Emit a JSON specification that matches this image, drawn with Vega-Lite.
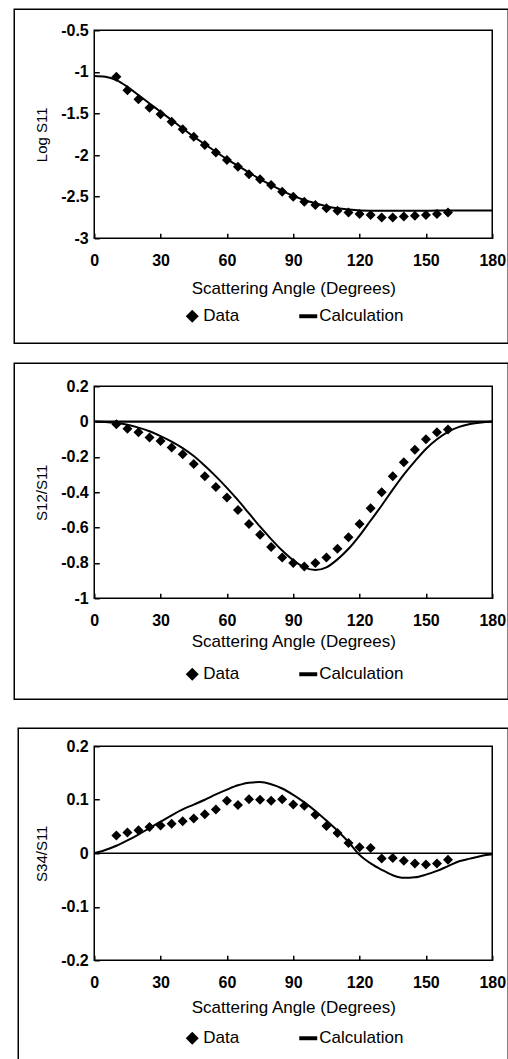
{
  "$schema": "https://vega.github.io/schema/vega-lite/v6.json",
  "background": "white",
  "autosize": {"type": "pad"},
  "padding": {"left": 12.25, "top": 7.25, "right": 0, "bottom": 0},
  "spacing": 148,
  "bounds": "flush",
  "resolve": {"scale": {"shape": "independent"}, "legend": {"shape": "independent"}},
  "datasets": {
    "s11d": [
      {"angle": 10, "value": -1.06, "series": "Data"}, {"angle": 15, "value": -1.22, "series": "Data"},
      {"angle": 20, "value": -1.33, "series": "Data"}, {"angle": 25, "value": -1.43, "series": "Data"},
      {"angle": 30, "value": -1.51, "series": "Data"}, {"angle": 35, "value": -1.6, "series": "Data"},
      {"angle": 40, "value": -1.69, "series": "Data"}, {"angle": 45, "value": -1.78, "series": "Data"},
      {"angle": 50, "value": -1.88, "series": "Data"}, {"angle": 55, "value": -1.97, "series": "Data"},
      {"angle": 60, "value": -2.06, "series": "Data"}, {"angle": 65, "value": -2.14, "series": "Data"},
      {"angle": 70, "value": -2.23, "series": "Data"}, {"angle": 75, "value": -2.29, "series": "Data"},
      {"angle": 80, "value": -2.36, "series": "Data"}, {"angle": 85, "value": -2.44, "series": "Data"},
      {"angle": 90, "value": -2.5, "series": "Data"}, {"angle": 95, "value": -2.56, "series": "Data"},
      {"angle": 100, "value": -2.6, "series": "Data"}, {"angle": 105, "value": -2.64, "series": "Data"},
      {"angle": 110, "value": -2.67, "series": "Data"}, {"angle": 115, "value": -2.69, "series": "Data"},
      {"angle": 120, "value": -2.71, "series": "Data"}, {"angle": 125, "value": -2.72, "series": "Data"},
      {"angle": 130, "value": -2.75, "series": "Data"}, {"angle": 135, "value": -2.75, "series": "Data"},
      {"angle": 140, "value": -2.74, "series": "Data"}, {"angle": 145, "value": -2.73, "series": "Data"},
      {"angle": 150, "value": -2.72, "series": "Data"}, {"angle": 155, "value": -2.71, "series": "Data"},
      {"angle": 160, "value": -2.69, "series": "Data"}
    ],
    "s11c": [
      {"angle": 0, "value": -1.05}, {"angle": 5, "value": -1.06}, {"angle": 10, "value": -1.1},
      {"angle": 15, "value": -1.18}, {"angle": 20, "value": -1.28}, {"angle": 25, "value": -1.38},
      {"angle": 30, "value": -1.48}, {"angle": 35, "value": -1.58}, {"angle": 40, "value": -1.68},
      {"angle": 45, "value": -1.78}, {"angle": 50, "value": -1.87}, {"angle": 55, "value": -1.96},
      {"angle": 60, "value": -2.05}, {"angle": 65, "value": -2.13}, {"angle": 70, "value": -2.21},
      {"angle": 75, "value": -2.29}, {"angle": 80, "value": -2.36}, {"angle": 85, "value": -2.43},
      {"angle": 90, "value": -2.49}, {"angle": 95, "value": -2.54}, {"angle": 100, "value": -2.58},
      {"angle": 105, "value": -2.615}, {"angle": 110, "value": -2.64}, {"angle": 115, "value": -2.655},
      {"angle": 120, "value": -2.665}, {"angle": 130, "value": -2.67}, {"angle": 140, "value": -2.67},
      {"angle": 150, "value": -2.67}, {"angle": 160, "value": -2.665}, {"angle": 170, "value": -2.665},
      {"angle": 180, "value": -2.665}
    ],
    "s12d": [
      {"angle": 10, "value": -0.015, "series": "Data"}, {"angle": 15, "value": -0.04, "series": "Data"},
      {"angle": 20, "value": -0.06, "series": "Data"}, {"angle": 25, "value": -0.09, "series": "Data"},
      {"angle": 30, "value": -0.11, "series": "Data"}, {"angle": 35, "value": -0.147, "series": "Data"},
      {"angle": 40, "value": -0.185, "series": "Data"}, {"angle": 45, "value": -0.24, "series": "Data"},
      {"angle": 50, "value": -0.31, "series": "Data"}, {"angle": 55, "value": -0.37, "series": "Data"},
      {"angle": 60, "value": -0.43, "series": "Data"}, {"angle": 65, "value": -0.5, "series": "Data"},
      {"angle": 70, "value": -0.58, "series": "Data"}, {"angle": 75, "value": -0.64, "series": "Data"},
      {"angle": 80, "value": -0.71, "series": "Data"}, {"angle": 85, "value": -0.77, "series": "Data"},
      {"angle": 90, "value": -0.8, "series": "Data"}, {"angle": 95, "value": -0.82, "series": "Data"},
      {"angle": 100, "value": -0.8, "series": "Data"}, {"angle": 105, "value": -0.77, "series": "Data"},
      {"angle": 110, "value": -0.72, "series": "Data"}, {"angle": 115, "value": -0.655, "series": "Data"},
      {"angle": 120, "value": -0.58, "series": "Data"}, {"angle": 125, "value": -0.49, "series": "Data"},
      {"angle": 130, "value": -0.4, "series": "Data"}, {"angle": 135, "value": -0.31, "series": "Data"},
      {"angle": 140, "value": -0.23, "series": "Data"}, {"angle": 145, "value": -0.16, "series": "Data"},
      {"angle": 150, "value": -0.1, "series": "Data"}, {"angle": 155, "value": -0.06, "series": "Data"},
      {"angle": 160, "value": -0.045, "series": "Data"}
    ],
    "s12c": [
      {"angle": 0, "value": 0}, {"angle": 5, "value": -0.002}, {"angle": 10, "value": -0.008},
      {"angle": 15, "value": -0.018}, {"angle": 20, "value": -0.034}, {"angle": 25, "value": -0.055},
      {"angle": 30, "value": -0.082}, {"angle": 35, "value": -0.113}, {"angle": 40, "value": -0.15},
      {"angle": 45, "value": -0.195}, {"angle": 50, "value": -0.25}, {"angle": 55, "value": -0.31},
      {"angle": 60, "value": -0.375}, {"angle": 65, "value": -0.445}, {"angle": 70, "value": -0.52},
      {"angle": 75, "value": -0.595}, {"angle": 80, "value": -0.665}, {"angle": 85, "value": -0.73},
      {"angle": 90, "value": -0.785}, {"angle": 95, "value": -0.825}, {"angle": 100, "value": -0.84},
      {"angle": 105, "value": -0.825}, {"angle": 110, "value": -0.78}, {"angle": 115, "value": -0.72},
      {"angle": 120, "value": -0.645}, {"angle": 125, "value": -0.56}, {"angle": 130, "value": -0.475},
      {"angle": 135, "value": -0.385}, {"angle": 140, "value": -0.3}, {"angle": 145, "value": -0.225},
      {"angle": 150, "value": -0.155}, {"angle": 155, "value": -0.1}, {"angle": 160, "value": -0.058},
      {"angle": 165, "value": -0.03}, {"angle": 170, "value": -0.014}, {"angle": 175, "value": -0.005},
      {"angle": 180, "value": 0}
    ],
    "s34d": [
      {"angle": 10, "value": 0.033, "series": "Data"}, {"angle": 15, "value": 0.039, "series": "Data"},
      {"angle": 20, "value": 0.043, "series": "Data"}, {"angle": 25, "value": 0.049, "series": "Data"},
      {"angle": 30, "value": 0.052, "series": "Data"}, {"angle": 35, "value": 0.055, "series": "Data"},
      {"angle": 40, "value": 0.06, "series": "Data"}, {"angle": 45, "value": 0.065, "series": "Data"},
      {"angle": 50, "value": 0.073, "series": "Data"}, {"angle": 55, "value": 0.082, "series": "Data"},
      {"angle": 60, "value": 0.098, "series": "Data"}, {"angle": 65, "value": 0.09, "series": "Data"},
      {"angle": 70, "value": 0.101, "series": "Data"}, {"angle": 75, "value": 0.1, "series": "Data"},
      {"angle": 80, "value": 0.098, "series": "Data"}, {"angle": 85, "value": 0.101, "series": "Data"},
      {"angle": 90, "value": 0.091, "series": "Data"}, {"angle": 95, "value": 0.089, "series": "Data"},
      {"angle": 100, "value": 0.072, "series": "Data"}, {"angle": 105, "value": 0.051, "series": "Data"},
      {"angle": 110, "value": 0.038, "series": "Data"}, {"angle": 115, "value": 0.019, "series": "Data"},
      {"angle": 120, "value": 0.011, "series": "Data"}, {"angle": 125, "value": 0.01, "series": "Data"},
      {"angle": 130, "value": -0.01, "series": "Data"}, {"angle": 135, "value": -0.009, "series": "Data"},
      {"angle": 140, "value": -0.014, "series": "Data"}, {"angle": 145, "value": -0.019, "series": "Data"},
      {"angle": 150, "value": -0.021, "series": "Data"}, {"angle": 155, "value": -0.019, "series": "Data"},
      {"angle": 160, "value": -0.012, "series": "Data"}
    ],
    "s34c": [
      {"angle": 0, "value": 0}, {"angle": 5, "value": 0.006}, {"angle": 10, "value": 0.014},
      {"angle": 15, "value": 0.024}, {"angle": 20, "value": 0.035}, {"angle": 25, "value": 0.047},
      {"angle": 30, "value": 0.059}, {"angle": 35, "value": 0.071}, {"angle": 40, "value": 0.082},
      {"angle": 45, "value": 0.091}, {"angle": 50, "value": 0.1}, {"angle": 55, "value": 0.11},
      {"angle": 60, "value": 0.119}, {"angle": 65, "value": 0.127}, {"angle": 70, "value": 0.132},
      {"angle": 75, "value": 0.133}, {"angle": 80, "value": 0.129}, {"angle": 85, "value": 0.121},
      {"angle": 90, "value": 0.109}, {"angle": 95, "value": 0.095}, {"angle": 100, "value": 0.079},
      {"angle": 105, "value": 0.061}, {"angle": 110, "value": 0.042}, {"angle": 115, "value": 0.021},
      {"angle": 120, "value": -0.003}, {"angle": 125, "value": -0.019}, {"angle": 130, "value": -0.031},
      {"angle": 135, "value": -0.041}, {"angle": 140, "value": -0.046}, {"angle": 145, "value": -0.045},
      {"angle": 150, "value": -0.04}, {"angle": 155, "value": -0.033}, {"angle": 160, "value": -0.024},
      {"angle": 165, "value": -0.015}, {"angle": 170, "value": -0.01}, {"angle": 175, "value": -0.005},
      {"angle": 180, "value": -0.002}
    ]
  },
  "vconcat": [
    {
      "width": 398,
      "height": 208,
      "layer": [
        {
          "data": {"name": "s11c"},
          "mark": {"type": "line", "color": "black", "strokeWidth": 2, "interpolate": "monotone"},
          "encoding": {
            "x": {"field": "angle", "type": "quantitative", "scale": {"domain": [0, 180], "nice": false, "zero": false},
                  "axis": {"title": "Scattering Angle (Degrees)", "values": [0, 30, 60, 90, 120, 150, 180], "tickCount": 10, "titlePadding": 12, "labelOverlap": false}},
            "y": {"field": "value", "type": "quantitative", "scale": {"domain": [-3, -0.5], "nice": false, "zero": false},
                  "axis": {"title": "Log S11", "values": [-3, -2.5, -2, -1.5, -1, -0.5], "tickCount": 10, "labelOverlap": false}}
          }
        },
        {
          "data": {"values": [{}]},
          "mark": {"type": "rect", "filled": false, "stroke": "black", "strokeWidth": 1.5},
          "encoding": {
            "x": {"datum": -36.18, "type": "quantitative"},
            "x2": {"datum": 187.24},
            "y": {"datum": -0.2476, "type": "quantitative"},
            "y2": {"datum": -4.262}
          }
        },
        {
          "data": {"name": "s11d"},
          "mark": {"type": "point", "filled": true, "color": "black", "size": 193, "opacity": 1},
          "encoding": {
            "x": {"field": "angle", "type": "quantitative"},
            "y": {"field": "value", "type": "quantitative"},
            "shape": {"field": "series", "type": "nominal",
                      "scale": {"domain": ["Data", "Calculation"], "range": ["M0,-0.72L0.72,0L0,0.72L-0.72,0Z", "M-1,-0.22L1,-0.22L1,0.22L-1,0.22Z"]},
                      "legend": {"title": null, "offset": 11}}
          }
        }
      ]
    },
    {
      "width": 398,
      "height": 212,
      "layer": [
        {
          "data": {"name": "s12c"},
          "mark": {"type": "line", "color": "black", "strokeWidth": 2, "interpolate": "monotone"},
          "encoding": {
            "x": {"field": "angle", "type": "quantitative", "scale": {"domain": [0, 180], "nice": false, "zero": false},
                  "axis": {"title": "Scattering Angle (Degrees)", "values": [0, 30, 60, 90, 120, 150, 180], "tickCount": 10, "titlePadding": 5, "labelOverlap": false}},
            "y": {"field": "value", "type": "quantitative", "scale": {"domain": [-1, 0.2], "nice": false, "zero": false},
                  "axis": {"title": "S12/S11", "values": [-1, -0.8, -0.6, -0.4, -0.2, 0, 0.2], "tickCount": 10, "labelOverlap": false}}
          }
        },
        {
          "data": {"values": [{}]},
          "mark": {"type": "rect", "filled": false, "stroke": "black", "strokeWidth": 1.5},
          "encoding": {
            "x": {"datum": -36.18, "type": "quantitative"},
            "x2": {"datum": 187.24},
            "y": {"datum": 0.3302, "type": "quantitative"},
            "y2": {"datum": -1.5717}
          }
        },
        {
          "data": {"values": [{}]},
          "mark": {"type": "rule", "color": "black", "strokeWidth": 2.2},
          "encoding": {
            "y": {"datum": 0, "type": "quantitative"}
          }
        },
        {
          "data": {"name": "s12d"},
          "mark": {"type": "point", "filled": true, "color": "black", "size": 193, "opacity": 1},
          "encoding": {
            "x": {"field": "angle", "type": "quantitative"},
            "y": {"field": "value", "type": "quantitative"},
            "shape": {"field": "series", "type": "nominal",
                      "scale": {"domain": ["Data", "Calculation"], "range": ["M0,-0.72L0.72,0L0,0.72L-0.72,0Z", "M-1,-0.22L1,-0.22L1,0.22L-1,0.22Z"]},
                      "legend": {"title": null, "offset": 16}}
          }
        }
      ]
    },
    {
      "width": 398,
      "height": 214,
      "layer": [
        {
          "data": {"name": "s34c"},
          "mark": {"type": "line", "color": "black", "strokeWidth": 2, "interpolate": "monotone"},
          "encoding": {
            "x": {"field": "angle", "type": "quantitative", "scale": {"domain": [0, 180], "nice": false, "zero": false},
                  "axis": {"title": "Scattering Angle (Degrees)", "values": [0, 30, 60, 90, 120, 150, 180], "tickCount": 10, "labelOverlap": false}},
            "y": {"field": "value", "type": "quantitative", "scale": {"domain": [-0.2, 0.2], "nice": false, "zero": false},
                  "axis": {"title": "S34/S11", "values": [-0.2, -0.1, 0, 0.1, 0.2], "tickCount": 10, "labelOverlap": false}}
          }
        },
        {
          "data": {"values": [{}]},
          "mark": {"type": "rect", "filled": false, "stroke": "black", "strokeWidth": 1.5},
          "encoding": {
            "x": {"datum": -34.37, "type": "quantitative"},
            "x2": {"datum": 187.24},
            "y": {"datum": 0.2336, "type": "quantitative"},
            "y2": {"datum": -0.4075}
          }
        },
        {
          "data": {"values": [{}]},
          "mark": {"type": "rule", "color": "black", "strokeWidth": 1.6},
          "encoding": {
            "y": {"datum": 0, "type": "quantitative"}
          }
        },
        {
          "data": {"name": "s34d"},
          "mark": {"type": "point", "filled": true, "color": "black", "size": 193, "opacity": 1},
          "encoding": {
            "x": {"field": "angle", "type": "quantitative"},
            "y": {"field": "value", "type": "quantitative"},
            "shape": {"field": "series", "type": "nominal",
                      "scale": {"domain": ["Data", "Calculation"], "range": ["M0,-0.72L0.72,0L0,0.72L-0.72,0Z", "M-1,-0.22L1,-0.22L1,0.22L-1,0.22Z"]},
                      "legend": {"title": null}}
          }
        }
      ]
    }
  ],
  "config": {
    "font": "Liberation Sans",
    "view": {"stroke": "black", "strokeWidth": 1.5},
    "axis": {
      "domain": false, "grid": false, "ticks": true, "tickColor": "black", "tickWidth": 1.5, "tickSize": -5,
      "labelFont": "Liberation Sans", "labelFontSize": 16, "labelFontWeight": "bold", "labelColor": "black",
      "labelFlush": false, "labelOverlap": false,
      "labelExpr": "replace(format(datum.value, '.1~f'), '\u2212', '-')",
      "titleFont": "Liberation Sans", "titleFontWeight": "normal", "titleColor": "black"
    },
    "axisX": {"labelPadding": 19, "titleFontSize": 17, "titlePadding": 9},
    "axisY": {"labelPadding": 11, "titleFontSize": 15, "titlePadding": 11},
    "legend": {
      "orient": "bottom", "direction": "horizontal",
      "labelFont": "Liberation Sans", "labelFontSize": 17, "labelColor": "black",
      "symbolSize": 324, "symbolStrokeWidth": 0, "symbolFillColor": "black",
      "columnPadding": 60, "labelOffset": 2, "offset": 14, "padding": 0,
      "layout": {"bottom": {"anchor": "middle"}}
    }
  }
}
